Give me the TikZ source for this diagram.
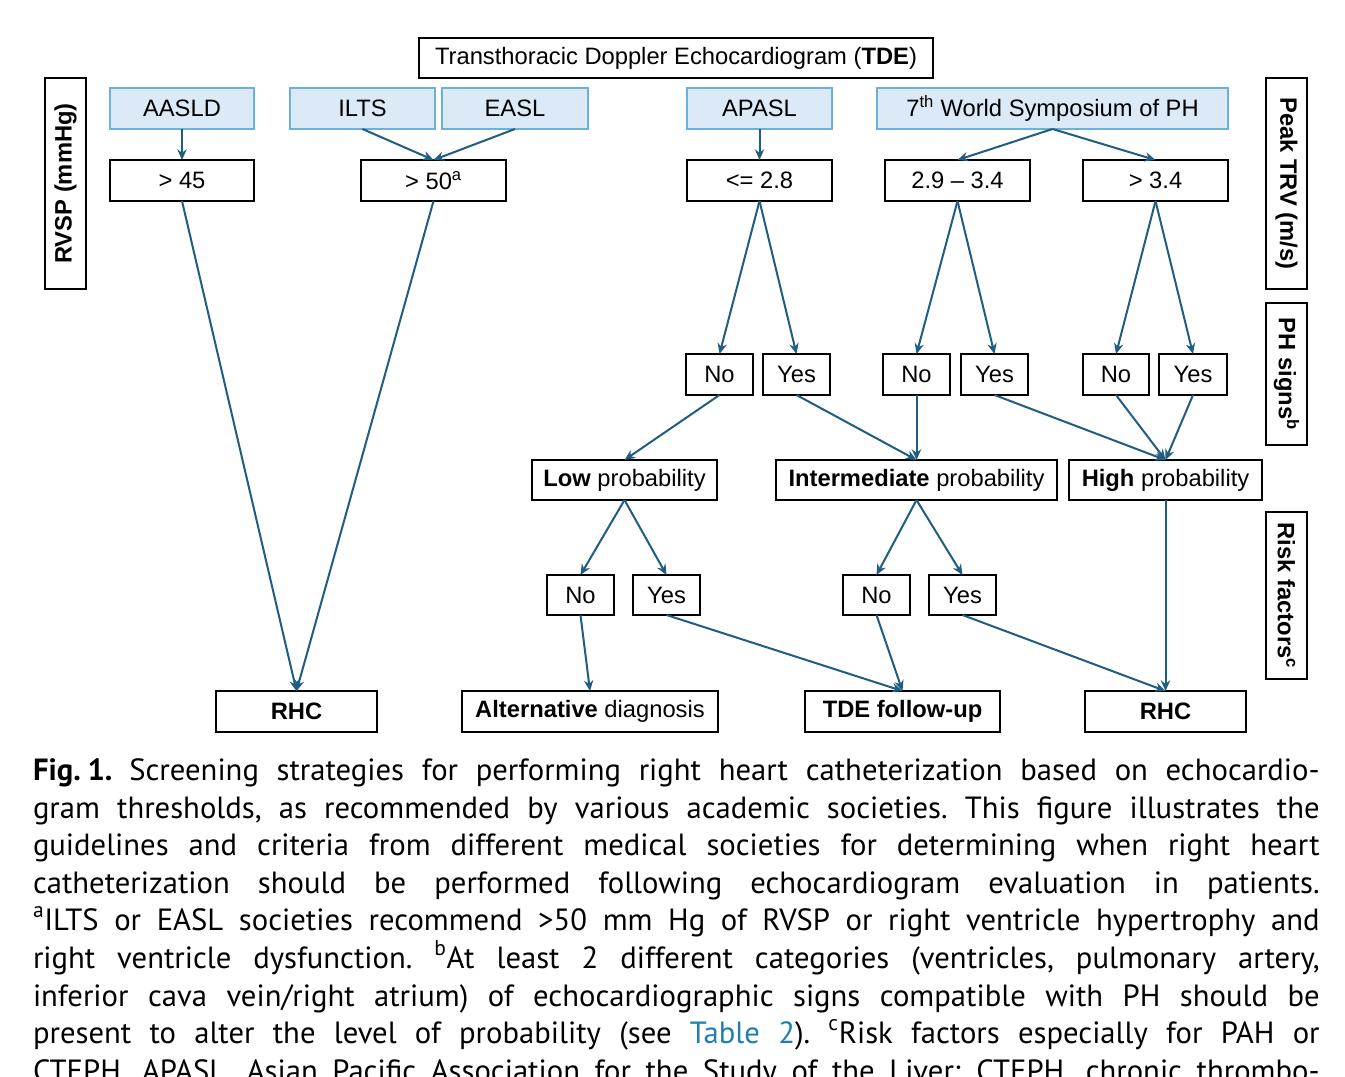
\documentclass[tikz,border=0pt]{standalone}
\usepackage{fontspec}
\setmainfont{Liberation Sans}
\newfontfamily\capfont{PT Sans}
\usetikzlibrary{arrows.meta}
\definecolor{arr}{HTML}{1F5D82}
\definecolor{bfill}{HTML}{DCE9F6}
\definecolor{bdraw}{HTML}{6AB2DE}
\definecolor{tblue}{HTML}{1F7FAF}
\newcommand\bx[7]{\node[#7, minimum width={(#4-#2)*0.75pt}, minimum height={(#5-#3)*0.75pt}] (#1) at ({(#2+#4)/2},{(#3+#5)/2}) {#6};}
\begin{document}
\frenchspacing
\begin{tikzpicture}[x=0.75pt,y=-0.75pt,
  every node/.style={inner sep=0pt, outer sep=0pt, font=\fontsize{17.8}{20}\selectfont},
  wbox/.style={draw=black, line width=1.4pt, fill=white},
  bbox/.style={draw=bdraw, line width=0.9pt, fill=bfill},
  sidebox/.style={draw=black, line width=1.4pt, font=\fontsize{17.8}{20}\selectfont\bfseries},
  conn/.style={draw=arr, line width=1.5pt, -{Stealth[length=8pt,width=7pt]}},
  capline/.style={anchor=base west, font=\capfont\fontsize{23}{27}\selectfont}]
\clip (0,0) rectangle (1345,1077);
\fill[white] (0,0) rectangle (1345,1077);

% title
\bx{tde}{419}{38}{933}{78}{Transthoracic Doppler Echocardiogram (\textbf{TDE})}{wbox}

% side labels
\node[sidebox, rotate=90, minimum width={211*0.75pt}, minimum height={41*0.75pt}] (rvsp) at (65.5,183.5) {RVSP (mmHg)};
\node[sidebox, rotate=-90, minimum width={211*0.75pt}, minimum height={41*0.75pt}] (trv) at (1286.5,183.5) {Peak TRV (m/s)};
\node[sidebox, rotate=-90, minimum width={142*0.75pt}, minimum height={41*0.75pt}] (phs) at (1286.5,374) {PH signs\textsuperscript{b}};
\node[sidebox, rotate=-90, minimum width={167*0.75pt}, minimum height={41*0.75pt}] (rfs) at (1286.5,595.5) {Risk factors\textsuperscript{c}};

% societies
\bx{aasld}{110}{88}{254}{129}{AASLD}{bbox}
\bx{ilts}{290}{88}{435}{129}{ILTS}{bbox}
\bx{easl}{442}{88}{588}{129}{EASL}{bbox}
\bx{apasl}{687}{88}{832}{129}{APASL}{bbox}
\bx{wsph}{877}{88}{1228}{129}{7\textsuperscript{th} World Symposium of PH}{bbox}

% thresholds
\bx{ga}{110}{160}{254}{201}{> 45}{wbox}
\bx{gb}{361}{160}{506}{201}{> 50\textsuperscript{a}}{wbox}
\bx{gc}{687}{160}{832}{201}{<= 2.8}{wbox}
\bx{gd}{885}{160}{1030}{201}{2.9 -- 3.4}{wbox}
\bx{ge}{1083}{160}{1228}{201}{> 3.4}{wbox}

% PH signs
\bx{pn1}{686}{354}{753}{395}{No}{wbox}
\bx{py1}{763}{354}{830}{395}{Yes}{wbox}
\bx{pn2}{883}{354}{950}{395}{No}{wbox}
\bx{py2}{961}{354}{1028}{395}{Yes}{wbox}
\bx{pn3}{1083}{354}{1149}{395}{No}{wbox}
\bx{py3}{1159}{354}{1227}{395}{Yes}{wbox}

% probabilities
\bx{low}{532}{460}{717}{500}{\textbf{Low} probability}{wbox}
\bx{mid}{776}{460}{1057}{500}{\textbf{Intermediate} probability}{wbox}
\bx{high}{1069}{460}{1262}{500}{\textbf{High} probability}{wbox}

% risk factors
\bx{rn1}{547}{575}{614}{615}{No}{wbox}
\bx{ry1}{633}{575}{700}{615}{Yes}{wbox}
\bx{rn2}{843}{575}{910}{615}{No}{wbox}
\bx{ry2}{929}{575}{996}{615}{Yes}{wbox}

% outcomes
\bx{rhca}{216}{691}{377}{732}{\textbf{RHC}}{wbox}
\bx{alt}{462}{691}{718}{732}{\textbf{Alternative} diagnosis}{wbox}
\bx{fu}{805}{691}{1000}{732}{\textbf{TDE follow-up}}{wbox}
\bx{rhcb}{1085}{691}{1246}{732}{\textbf{RHC}}{wbox}

% connectors
\draw[conn] (aasld.south) -- (ga.north);
\draw[conn] (ilts.south) -- (gb.north);
\draw[conn] (easl.south) -- (gb.north);
\draw[conn] (apasl.south) -- (gc.north);
\draw[conn] (wsph.south) -- (gd.north);
\draw[conn] (wsph.south) -- (ge.north);
\draw[conn] (ga.south) -- (rhca.north);
\draw[conn] (gb.south) -- (rhca.north);
\draw[conn] (gc.south) -- (pn1.north);
\draw[conn] (gc.south) -- (py1.north);
\draw[conn] (gd.south) -- (pn2.north);
\draw[conn] (gd.south) -- (py2.north);
\draw[conn] (ge.south) -- (pn3.north);
\draw[conn] (ge.south) -- (py3.north);
\draw[conn] (pn1.south) -- (low.north);
\draw[conn] (py1.south) -- (mid.north);
\draw[conn] (pn2.south) -- (mid.north);
\draw[conn] (py2.south) -- (high.north);
\draw[conn] (pn3.south) -- (high.north);
\draw[conn] (py3.south) -- (high.north);
\draw[conn] (low.south) -- (rn1.north);
\draw[conn] (low.south) -- (ry1.north);
\draw[conn] (mid.south) -- (rn2.north);
\draw[conn] (mid.south) -- (ry2.north);
\draw[conn] (high.south) -- (rhcb.north);
\draw[conn] (rn1.south) -- (alt.north);
\draw[conn] (ry1.south) -- (fu.north);
\draw[conn] (rn2.south) -- (fu.north);
\draw[conn] (ry2.south) -- (rhcb.north);

% caption
\node[capline] (c1) at (33,780) {\makebox[965pt][s]{\textbf{Fig.\hspace{0.22em}1.}\hspace{0.55em}Screening strategies for performing right heart catheterization based on echocardio-}};
\node[capline] (c2) at (33,818) {\makebox[965pt][s]{gram thresholds, as recommended by various academic societies. This figure illustrates the}};
\node[capline] (c3) at (33,855) {\makebox[965pt][s]{guidelines and criteria from different medical societies for determining when right heart}};
\node[capline] (c4) at (33,893) {\makebox[965pt][s]{catheterization should be performed following echocardiogram evaluation in patients.}};
\node[capline] (c5) at (33,930) {\makebox[965pt][s]{\textsuperscript{a}ILTS or EASL societies recommend >50 mm Hg of RVSP or right ventricle hypertrophy and}};
\node[capline] (c6) at (33,968) {\makebox[965pt][s]{right ventricle dysfunction. \textsuperscript{b}At least 2 different categories (ventricles, pulmonary artery,}};
\node[capline] (c7) at (33,1006) {\makebox[965pt][s]{inferior cava vein/right atrium) of echocardiographic signs compatible with PH should be}};
\node[capline] (c8) at (33,1043) {\makebox[965pt][s]{present to alter the level of probability (see {\color{tblue}Table 2}). \textsuperscript{c}Risk factors especially for PAH or}};
\node[capline] (c9) at (33,1081) {\makebox[965pt][s]{CTEPH. APASL, Asian Pacific Association for the Study of the Liver; CTEPH, chronic thrombo-}};
\end{tikzpicture}
\end{document}
